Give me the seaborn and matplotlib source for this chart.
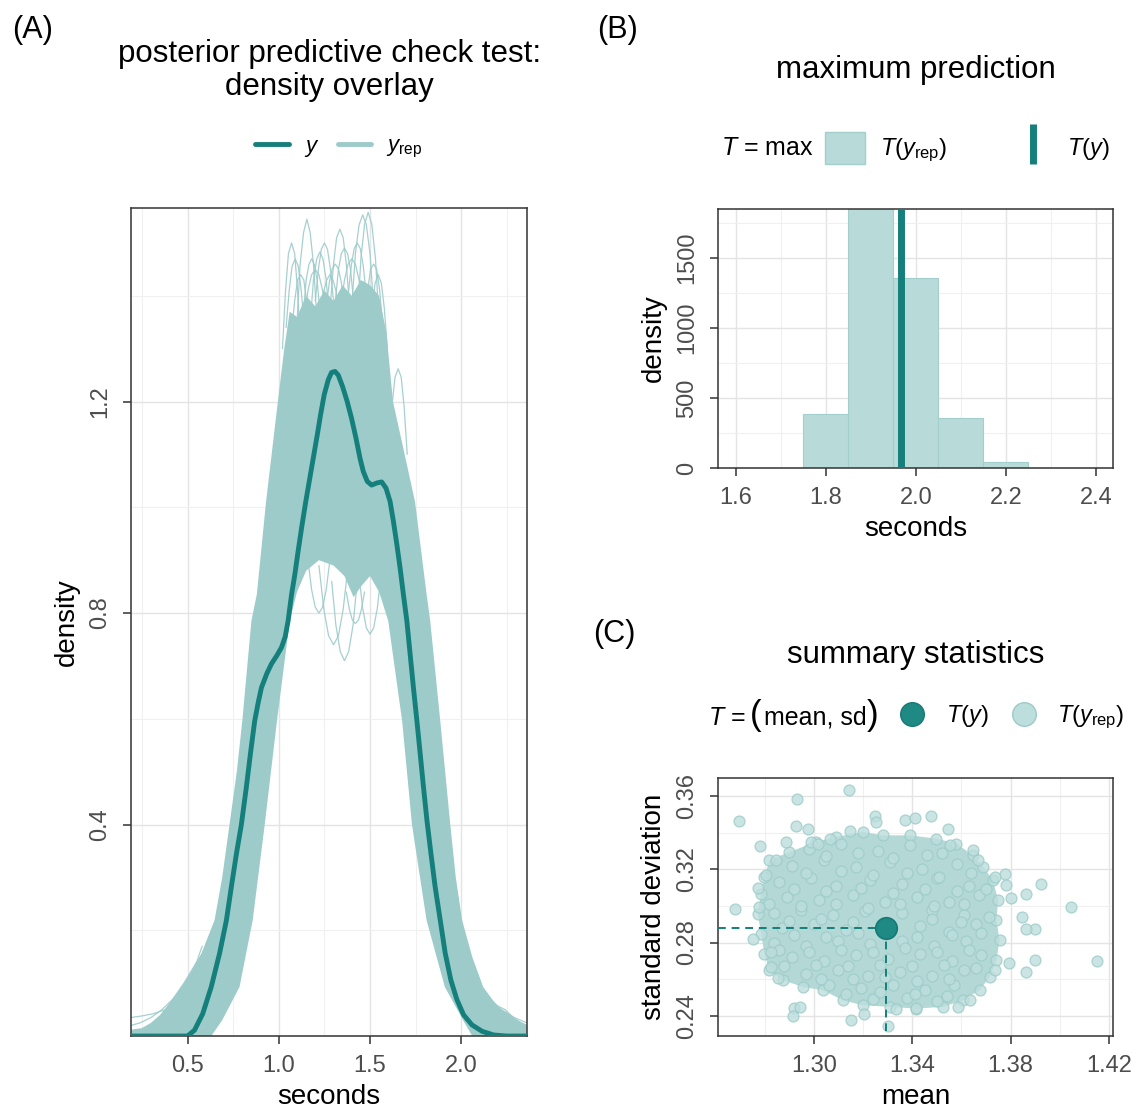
"""
Posterior predictive check panels: density overlay, max statistic, mean/sd scatter.
"""

import matplotlib
matplotlib.use("Agg")
import matplotlib.pyplot as plt
import seaborn as sns
import pandas as pd
from matplotlib.lines import Line2D
from matplotlib.patches import Patch
from matplotlib.ticker import FixedLocator

DARK = "#147f7b"
BAND = "#9dcbca"
HIST_FILL = "#b8dbd9"
HIST_EDGE = "#a2cfcc"
PT_FILL = "#bcdedc"
PT_EDGE = "#9ccbc8"
CORE_FILL = "#b3d8d5"
TY_FILL = "#1f8984"
TY_EDGE = "#157a76"

# ---- panel A: observed density (y) ----
Y_DENS_X = [0.19, 0.50, 0.538, 0.583, 0.630, 0.676, 0.713, 0.740, 0.768, 0.795, 0.822,
            0.845, 0.868, 0.888, 0.905, 0.935, 0.960, 0.990, 1.015, 1.035, 1.051, 1.070,
            1.088, 1.106, 1.125, 1.148, 1.170, 1.192, 1.211, 1.229, 1.249, 1.271, 1.289,
            1.308, 1.326, 1.350, 1.375, 1.399, 1.423, 1.445, 1.463, 1.485, 1.509, 1.537,
            1.564, 1.588, 1.610, 1.628, 1.647, 1.665, 1.683, 1.702, 1.720, 1.738, 1.757,
            1.775, 1.793, 1.812, 1.834, 1.857, 1.885, 1.912, 1.943, 1.976, 2.013, 2.059,
            2.114, 2.177, 2.25, 2.36]
Y_DENS_Y = [0.0, 0.0, 0.011, 0.042, 0.093, 0.157, 0.219, 0.282, 0.345, 0.40, 0.47,
            0.535, 0.596, 0.632, 0.659, 0.686, 0.704, 0.720, 0.735, 0.755, 0.785, 0.835,
            0.873, 0.917, 0.961, 1.011, 1.055, 1.099, 1.137, 1.175, 1.213, 1.241, 1.255,
            1.257, 1.250, 1.228, 1.200, 1.168, 1.131, 1.093, 1.068, 1.049, 1.042, 1.046,
            1.048, 1.036, 1.011, 0.974, 0.930, 0.885, 0.835, 0.785, 0.722, 0.659, 0.596,
            0.534, 0.471, 0.408, 0.345, 0.282, 0.219, 0.157, 0.106, 0.069, 0.040, 0.021,
            0.009, 0.002, 0.0, 0.0]

# ---- panel A: y_rep bundle, outer edge ----
REP_TOP_X = [0.19, 0.25, 0.30, 0.35, 0.40, 0.45, 0.50, 0.577, 0.648, 0.69, 0.73, 0.77,
             0.80, 0.85, 0.88, 0.93, 0.995, 1.03, 1.06, 1.10, 1.15, 1.20, 1.25, 1.30,
             1.35, 1.40, 1.45, 1.50, 1.55, 1.59, 1.626, 1.69, 1.747, 1.81, 1.83, 1.885,
             1.94, 1.97, 2.005, 2.06, 2.12, 2.20, 2.31, 2.36]
REP_TOP_Y = [0.012, 0.015, 0.025, 0.04, 0.062, 0.085, 0.11, 0.157, 0.219, 0.30, 0.40, 0.50,
             0.596, 0.785, 0.836, 1.01, 1.20, 1.30, 1.37, 1.36, 1.40, 1.38, 1.41, 1.39,
             1.42, 1.40, 1.43, 1.42, 1.40, 1.33, 1.20, 1.10, 1.01, 0.836, 0.785, 0.596,
             0.40, 0.30, 0.219, 0.15, 0.093, 0.055, 0.03, 0.02]
# inner edge: the empty region under the bundle
REP_HOLE_X = [0.63, 0.69, 0.785, 0.857, 0.923, 0.99, 1.06, 1.10, 1.15, 1.22, 1.30, 1.36,
              1.41, 1.45, 1.50, 1.55, 1.60, 1.676, 1.73, 1.81, 1.91, 2.01, 2.06]
REP_HOLE_Y = [0.0, 0.03, 0.093, 0.219, 0.40, 0.596, 0.785, 0.84, 0.88, 0.90, 0.89, 0.87,
              0.83, 0.85, 0.87, 0.84, 0.785, 0.596, 0.40, 0.219, 0.093, 0.03, 0.0]

# single replicated curves poking out above the bundle, dipping into the gap, and tails
ARC_X = [[1.02, 1.037, 1.053, 1.07, 1.087, 1.103, 1.12],
         [1.10, 1.117, 1.136, 1.154, 1.172, 1.19, 1.21],
         [1.175, 1.19, 1.208, 1.225, 1.242, 1.26, 1.275],
         [1.28, 1.30, 1.317, 1.335, 1.353, 1.37, 1.39],
         [1.40, 1.42, 1.44, 1.46, 1.48, 1.50, 1.52],
         [1.43, 1.45, 1.47, 1.49, 1.51, 1.53, 1.55],
         [1.604, 1.62, 1.637, 1.654, 1.671, 1.687, 1.704],
         [1.14, 1.16, 1.18, 1.20, 1.22, 1.24, 1.26],
         [1.34, 1.36, 1.38, 1.40, 1.42, 1.44, 1.46],
         [1.23, 1.247, 1.263, 1.28, 1.297, 1.313, 1.33],
         [1.07, 1.087, 1.103, 1.12, 1.137, 1.153, 1.17],
         [1.47, 1.487, 1.503, 1.52, 1.537, 1.553, 1.57],
         [1.31, 1.327, 1.343, 1.36, 1.377, 1.393, 1.41],
         [1.135, 1.15, 1.165, 1.18, 1.195, 1.21, 1.225],
         [1.26, 1.277, 1.293, 1.31, 1.327, 1.343, 1.36],
         [1.38, 1.397, 1.413, 1.43, 1.447, 1.463, 1.48],
         [1.04, 1.057, 1.073, 1.09, 1.107, 1.123, 1.14],
         [1.495, 1.512, 1.528, 1.545, 1.562, 1.578, 1.595],
         [1.20, 1.217, 1.233, 1.25, 1.267, 1.283, 1.30],
         [1.22, 1.247, 1.273, 1.30, 1.327, 1.353, 1.38],
         [1.29, 1.313, 1.337, 1.36, 1.383, 1.407, 1.43],
         [1.44, 1.46, 1.48, 1.50, 1.52, 1.54, 1.56],
         [1.16, 1.18, 1.20, 1.22, 1.24, 1.26, 1.28],
         [1.37, 1.387, 1.403, 1.42, 1.437, 1.453, 1.47],
         [0.19, 0.25, 0.31, 0.38, 0.45, 0.52, 0.58],
         [0.19, 0.24, 0.30, 0.36, 0.42, 0.48, 0.55],
         [1.95, 2.03, 2.10, 2.16, 2.22, 2.29, 2.36],
         [1.98, 2.05, 2.12, 2.18, 2.24, 2.30, 2.36]]
ARC_Y = [[1.30, 1.41, 1.48, 1.50, 1.48, 1.41, 1.30],
         [1.35, 1.46, 1.52, 1.545, 1.52, 1.46, 1.35],
         [1.36, 1.43, 1.47, 1.483, 1.47, 1.43, 1.36],
         [1.37, 1.46, 1.51, 1.526, 1.51, 1.46, 1.37],
         [1.38, 1.48, 1.534, 1.553, 1.534, 1.48, 1.38],
         [1.35, 1.47, 1.535, 1.558, 1.535, 1.47, 1.35],
         [1.10, 1.19, 1.246, 1.262, 1.246, 1.19, 1.10],
         [1.36, 1.41, 1.44, 1.45, 1.44, 1.41, 1.36],
         [1.38, 1.43, 1.46, 1.47, 1.46, 1.43, 1.38],
         [1.37, 1.41, 1.43, 1.44, 1.43, 1.41, 1.37],
         [1.33, 1.39, 1.43, 1.44, 1.43, 1.39, 1.33],
         [1.34, 1.41, 1.45, 1.46, 1.45, 1.41, 1.34],
         [1.39, 1.45, 1.48, 1.49, 1.48, 1.45, 1.39],
         [1.37, 1.43, 1.459, 1.47, 1.459, 1.43, 1.37],
         [1.38, 1.425, 1.451, 1.46, 1.451, 1.425, 1.38],
         [1.40, 1.456, 1.489, 1.50, 1.489, 1.456, 1.40],
         [1.34, 1.41, 1.456, 1.47, 1.456, 1.41, 1.34],
         [1.30, 1.378, 1.424, 1.44, 1.424, 1.378, 1.30],
         [1.39, 1.45, 1.488, 1.50, 1.488, 1.45, 1.39],
         [0.89, 0.807, 0.757, 0.74, 0.757, 0.807, 0.89],
         [0.86, 0.777, 0.727, 0.71, 0.727, 0.777, 0.86],
         [0.87, 0.809, 0.772, 0.76, 0.772, 0.809, 0.87],
         [0.90, 0.844, 0.811, 0.80, 0.811, 0.844, 0.90],
         [0.84, 0.807, 0.787, 0.78, 0.787, 0.807, 0.84],
         [0.035, 0.038, 0.042, 0.05, 0.07, 0.11, 0.17],
         [0.02, 0.025, 0.035, 0.05, 0.07, 0.10, 0.14],
         [0.22, 0.12, 0.08, 0.07, 0.05, 0.035, 0.025],
         [0.14, 0.07, 0.05, 0.06, 0.05, 0.03, 0.02]]

# ---- panel B: max(y_rep) histogram ----
BIN_EDGES = [1.75, 1.85, 1.95, 2.05, 2.15, 2.25]
BIN_MIDS = [1.80, 1.90, 2.00, 2.10, 2.20]
BIN_DENSITY = [386, 1900, 1357, 357, 43]
T_Y_MAX = 1.966

# ---- panel C: (mean, sd) of y_rep ----
CORE_MEAN = [1.2820, 1.2901, 1.3009, 1.3091, 1.3199, 1.3281, 1.3389, 1.3498, 1.3579,
             1.3647, 1.3688, 1.3728, 1.3749, 1.3742, 1.3755, 1.3742, 1.3715, 1.3674,
             1.3606, 1.3525, 1.3416, 1.3308, 1.3199, 1.3118, 1.3037, 1.2955, 1.2874,
             1.2820, 1.2799, 1.2786, 1.2772, 1.2786, 1.2799]
CORE_SD = [0.3249, 0.3294, 0.3349, 0.3376, 0.3404, 0.3385, 0.3385, 0.3367, 0.3340,
           0.3276, 0.3213, 0.3140, 0.3031, 0.2922, 0.2813, 0.2704, 0.2613, 0.2540,
           0.2485, 0.2449, 0.2440, 0.2449, 0.2458, 0.2485, 0.2540, 0.2558, 0.2595,
           0.2649, 0.2740, 0.2849, 0.2958, 0.3067, 0.3158]
INNER_MEAN = [1.298, 1.311, 1.326, 1.339, 1.352,
              1.291, 1.304, 1.317, 1.331, 1.344, 1.358,
              1.286, 1.299, 1.309, 1.323, 1.336, 1.350, 1.363,
              1.289, 1.302, 1.316, 1.329, 1.342, 1.355, 1.367,
              1.284, 1.295, 1.308, 1.321, 1.336, 1.348, 1.361,
              1.287, 1.300, 1.313, 1.343, 1.355, 1.366,
              1.284, 1.297, 1.310, 1.323, 1.336, 1.349, 1.362,
              1.291, 1.304, 1.317, 1.330, 1.343, 1.356, 1.368,
              1.297, 1.310, 1.322, 1.335, 1.348, 1.361,
              1.306, 1.319, 1.332, 1.345, 1.357,
              1.324, 1.338, 1.350,
              1.305, 1.318, 1.332, 1.346,
              1.297, 1.311, 1.324, 1.338, 1.351, 1.364,
              1.292, 1.305, 1.319, 1.332, 1.345, 1.358, 1.370,
              1.282, 1.295, 1.309, 1.322, 1.335, 1.349, 1.361,
              1.290, 1.303, 1.316, 1.348, 1.360, 1.371,
              1.292, 1.305, 1.318, 1.342, 1.356, 1.368,
              1.286, 1.298, 1.311, 1.324, 1.337, 1.350, 1.363,
              1.288, 1.301, 1.314, 1.327, 1.340, 1.353, 1.366,
              1.303, 1.316, 1.329, 1.342, 1.355,
              1.313, 1.327, 1.341, 1.354]
INNER_SD = [0.331, 0.334, 0.330, 0.333, 0.329,
            0.322, 0.325, 0.321, 0.324, 0.320, 0.323,
            0.313, 0.315, 0.311, 0.314, 0.312, 0.315, 0.311,
            0.305, 0.303, 0.306, 0.302, 0.305, 0.302, 0.306,
            0.296, 0.298, 0.295, 0.297, 0.296, 0.298, 0.295,
            0.288, 0.290, 0.287, 0.289, 0.286, 0.290,
            0.280, 0.278, 0.281, 0.279, 0.281, 0.278, 0.281,
            0.272, 0.270, 0.273, 0.271, 0.274, 0.270, 0.273,
            0.263, 0.265, 0.262, 0.264, 0.262, 0.265,
            0.257, 0.255, 0.257, 0.254, 0.257,
            0.249, 0.250, 0.248,
            0.327, 0.329, 0.326, 0.328,
            0.318, 0.319, 0.317, 0.318, 0.316, 0.318,
            0.309, 0.308, 0.310, 0.307, 0.309, 0.308, 0.309,
            0.301, 0.300, 0.301, 0.299, 0.301, 0.300, 0.301,
            0.292, 0.293, 0.291, 0.293, 0.291, 0.294,
            0.284, 0.283, 0.285, 0.283, 0.284, 0.285,
            0.276, 0.275, 0.276, 0.275, 0.277, 0.275, 0.276,
            0.267, 0.268, 0.267, 0.268, 0.267, 0.268, 0.266,
            0.260, 0.260, 0.261, 0.259, 0.260,
            0.252, 0.253, 0.252, 0.251]
OUT_MEAN = [1.3145, 1.2932, 1.2698, 1.2928, 1.2978, 1.2782, 1.2887, 1.2989, 1.3016,
            1.3064, 1.3148, 1.3247, 1.3254, 1.3369, 1.3410, 1.3477, 1.3545, 1.3552,
            1.2847, 1.2806, 1.2772, 1.2681, 1.2779, 1.2755, 1.2826, 1.2826, 1.2854,
            1.2921, 1.2942, 1.2915, 1.3152, 1.3206, 1.3301, 1.3335, 1.3414, 1.3586,
            1.3633, 1.3735, 1.3793, 1.3864, 1.3898, 1.3898, 1.3864, 1.3847, 1.3864,
            1.3925, 1.3776, 1.3783, 1.3803, 1.3735, 1.4047, 1.4149, 1.3667, 1.3647]
OUT_SD = [0.3634, 0.3585, 0.3464, 0.3435, 0.3422, 0.3325, 0.3349, 0.3349, 0.3340,
          0.3367, 0.3409, 0.3489, 0.3458, 0.3471, 0.3482, 0.3489, 0.3422, 0.3331,
          0.3249, 0.3167, 0.3095, 0.2985, 0.2995, 0.2822, 0.2749, 0.2667, 0.2604,
          0.2445, 0.2449, 0.2398, 0.2376, 0.2409, 0.2344, 0.2435, 0.2445, 0.2449,
          0.2489, 0.2649, 0.2691, 0.2640, 0.2704, 0.2873, 0.2876, 0.2940, 0.3067,
          0.3122, 0.3176, 0.3113, 0.3045, 0.3158, 0.2995, 0.2698, 0.3249, 0.3304]
T_Y_MEAN = 1.3295
T_Y_SD = 0.2878


sns.set_theme(style="whitegrid")
plt.rcParams.update({
    "font.family": ["Liberation Sans", "DejaVu Sans"],
    "text.color": "black",
    "mathtext.fontset": "custom",
    "mathtext.rm": "Liberation Sans",
    "mathtext.it": "Liberation Sans:italic",
    "mathtext.bf": "Liberation Sans:bold",
    "axes.edgecolor": "#333333",
    "axes.linewidth": 1.1,
    "xtick.bottom": True,
    "ytick.left": True,
    "xtick.major.size": 6,
    "ytick.major.size": 6,
    "xtick.major.width": 1.1,
    "ytick.major.width": 1.1,
    "xtick.major.pad": 8,
    "ytick.major.pad": 8,
    "xtick.color": "#333333",
    "ytick.color": "#333333",
    "xtick.labelcolor": "#4d4d4d",
    "ytick.labelcolor": "#4d4d4d",
    "xtick.labelsize": 17,
    "ytick.labelsize": 17,
    "axes.labelsize": 20,
    "axes.labelcolor": "black",
})


def style_axes(ax, xmajor, xminor, ymajor, yminor):
    ax.xaxis.set_major_locator(FixedLocator(xmajor))
    ax.xaxis.set_minor_locator(FixedLocator(xminor))
    ax.yaxis.set_major_locator(FixedLocator(ymajor))
    ax.yaxis.set_minor_locator(FixedLocator(yminor))
    ax.grid(which="major", color="#e4e4e4", linewidth=1.0)
    ax.grid(which="minor", color="#f0f0f0", linewidth=0.8)
    ax.tick_params(which="minor", length=0)
    ax.tick_params(axis="y", labelrotation=90)
    for lab in ax.get_yticklabels():
        lab.set_va("center")
    for sp in ax.spines.values():
        sp.set_visible(True)
        sp.set_color("#333333")
    ax.set_axisbelow(True)


fig = plt.figure(figsize=(11.43, 11.09), dpi=100)

# ================= (A) density overlay =================
axA = fig.add_axes([0.1146, 0.0658, 0.3464, 0.7466])
poly_x = [0.19] + REP_TOP_X + [2.36] + REP_HOLE_X[::-1] + [0.19]
poly_y = [0.0] + REP_TOP_Y + [0.0] + REP_HOLE_Y[::-1] + [0.0]
axA.fill(poly_x, poly_y, color=BAND, linewidth=0, zorder=2)
for arc_x, arc_y in zip(ARC_X, ARC_Y):
    axA.plot(arc_x, arc_y, color=BAND, linewidth=0.9, alpha=0.9, zorder=2)
dens = pd.DataFrame({"seconds": Y_DENS_X, "density": Y_DENS_Y})
sns.lineplot(data=dens, x="seconds", y="density", sort=False, estimator=None,
             color=DARK, linewidth=3.5, ax=axA, zorder=3)
axA.set_xlim(0.19, 2.36)
axA.set_ylim(0, 1.566)
style_axes(axA, [0.5, 1.0, 1.5, 2.0], [0.25, 0.75, 1.25, 1.75, 2.25],
           [0.4, 0.8, 1.2], [0.2, 0.6, 1.0, 1.4])
axA.set_xlabel("seconds", labelpad=5)
axA.set_ylabel("density", labelpad=7)

# ================= (B) max statistic =================
axB = fig.add_axes([0.628, 0.578, 0.3458, 0.2335])
sns.histplot(x=BIN_MIDS, weights=BIN_DENSITY, bins=BIN_EDGES, stat="count",
             color=HIST_FILL, edgecolor=HIST_EDGE, linewidth=0.8, alpha=1.0,
             ax=axB, zorder=2)
axB.axvline(T_Y_MAX, color=DARK, linewidth=5.0, zorder=3)
axB.set_xlim(1.56, 2.438)
axB.set_ylim(0, 1850)
style_axes(axB, [1.6, 1.8, 2.0, 2.2, 2.4], [1.7, 1.9, 2.1, 2.3],
           [0, 500, 1000, 1500], [250, 750, 1250, 1750])
axB.set_xlabel("seconds", labelpad=5)
axB.set_ylabel("density", labelpad=7)

# ================= (C) mean / sd scatter =================
axC = fig.add_axes([0.628, 0.0658, 0.3458, 0.2327])
axC.fill(CORE_MEAN, CORE_SD, color=CORE_FILL, linewidth=0, zorder=2)
sns.scatterplot(x=CORE_MEAN + INNER_MEAN + OUT_MEAN, y=CORE_SD + INNER_SD + OUT_SD,
                s=62, color=PT_FILL, edgecolor=PT_EDGE, linewidth=0.9, alpha=0.8,
                ax=axC, zorder=3)
axC.set_xlim(1.261, 1.4216)
axC.set_ylim(0.229, 0.3698)
axC.plot([1.261, T_Y_MEAN], [T_Y_SD, T_Y_SD], color=DARK, linestyle=(0, (4, 3)),
         linewidth=1.4, zorder=4)
axC.plot([T_Y_MEAN, T_Y_MEAN], [T_Y_SD, 0.229], color=DARK, linestyle=(0, (4, 3)),
         linewidth=1.4, zorder=4)
sns.scatterplot(x=[T_Y_MEAN], y=[T_Y_SD], s=240, color=TY_FILL, edgecolor=TY_EDGE,
                linewidth=1.2, ax=axC, zorder=5)
style_axes(axC, [1.30, 1.34, 1.38, 1.42], [1.28, 1.32, 1.36, 1.40],
           [0.24, 0.28, 0.32, 0.36], [0.26, 0.30, 0.34])
axC.set_xlabel("mean", labelpad=5)
axC.set_ylabel("standard deviation", labelpad=7)

# ================= titles, panel tags, legends =================
fig.text(0.0105, 0.973, "(A)", fontsize=22, va="center", ha="left")
fig.text(0.522, 0.973, "(B)", fontsize=22, va="center", ha="left")
fig.text(0.519, 0.428, "(C)", fontsize=22, va="center", ha="left")

fig.text(0.288, 0.951, "posterior predictive check test:", fontsize=22.5,
         ha="center", va="center")
fig.text(0.288, 0.922, "density overlay", fontsize=22.5, ha="center", va="center")
fig.text(0.801, 0.937, "maximum prediction", fontsize=22.5, ha="center", va="center")
fig.text(0.801, 0.409, "summary statistics", fontsize=22.5, ha="center", va="center")

fig.legend(handles=[Line2D([], [], color=DARK, linewidth=3.5),
                    Line2D([], [], color=BAND, linewidth=3.5)],
           labels=[r"$y$", r"$y_{\mathrm{rep}}$"], ncol=2, frameon=False,
           loc="center", bbox_to_anchor=(0.2966, 0.8665), fontsize=16,
           handlelength=1.5, columnspacing=0.8, handletextpad=0.7)

fig.text(0.631, 0.8665, r"$T$ = max", fontsize=18, ha="left", va="center")
fig.legend(handles=[Patch(facecolor=HIST_FILL, edgecolor=HIST_EDGE),
                    Line2D([], [], color=DARK, marker="|", markersize=29,
                           markeredgewidth=5, linestyle="None")],
           labels=[r"$T(y_{\mathrm{rep}})$", r"$T(y)$"], ncol=2, frameon=False,
           loc="center left", bbox_to_anchor=(0.722, 0.8665), fontsize=17,
           handlelength=1.7, handleheight=1.7, columnspacing=2.8, handletextpad=0.6,
           borderaxespad=0, borderpad=0)

# legend title for (C) with enlarged parentheses
fig.text(0.6194, 0.3463, r"$T$ =", fontsize=18, ha="left", va="baseline")
fig.text(0.6562, 0.3463, "(", fontsize=25, ha="left", va="baseline")
fig.text(0.6684, 0.3463, "mean, sd", fontsize=18, ha="left", va="baseline")
fig.text(0.7585, 0.3463, ")", fontsize=25, ha="left", va="baseline")
fig.legend(handles=[Line2D([], [], color=TY_FILL, marker="o", markersize=17,
                           markeredgecolor=TY_EDGE, linestyle="None"),
                    Line2D([], [], color=PT_FILL, marker="o", markersize=17,
                           markeredgecolor=PT_EDGE, linestyle="None")],
           labels=[r"$T(y)$", r"$T(y_{\mathrm{rep}})$"], ncol=2, frameon=False,
           loc="center left", bbox_to_anchor=(0.788, 0.3535), fontsize=17,
           handlelength=1.0, columnspacing=1.0, handletextpad=0.9,
           borderaxespad=0, borderpad=0)

fig.savefig("out.png", dpi=100)
